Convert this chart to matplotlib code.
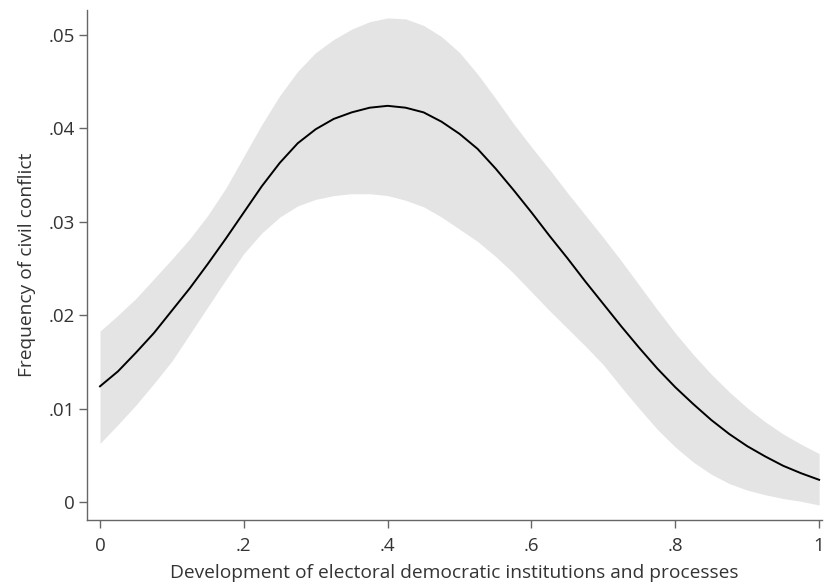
import matplotlib
matplotlib.use("Agg")
import matplotlib.pyplot as plt

x_vals = [0.0, 0.025, 0.05, 0.075, 0.1, 0.125, 0.15, 0.175, 0.2, 0.225,
          0.25, 0.275, 0.3, 0.325, 0.35, 0.375, 0.4, 0.425, 0.45, 0.475,
          0.5, 0.525, 0.55, 0.575, 0.6, 0.625, 0.65, 0.675, 0.7, 0.725,
          0.75, 0.775, 0.8, 0.825, 0.85, 0.875, 0.9, 0.925, 0.95, 0.975, 1.0]
mean_vals = [0.0124, 0.0140, 0.0160, 0.0181, 0.0205, 0.0229, 0.0255, 0.0282, 0.0310, 0.0338,
             0.0363, 0.0384, 0.0399, 0.0410, 0.0417, 0.0422, 0.0424, 0.0422, 0.0417, 0.0407,
             0.0394, 0.0378, 0.0357, 0.0334, 0.0310, 0.0285, 0.0261, 0.0236, 0.0212, 0.0188,
             0.0165, 0.0143, 0.0123, 0.0105, 0.0088, 0.0073, 0.0060, 0.0049, 0.0039, 0.0031, 0.0024]
upper_vals = [0.0183, 0.0200, 0.0218, 0.0239, 0.0260, 0.0282, 0.0307, 0.0336, 0.0370, 0.0404,
              0.0435, 0.0461, 0.0481, 0.0495, 0.0506, 0.0514, 0.0518, 0.0517, 0.0510, 0.0498,
              0.0481, 0.0458, 0.0432, 0.0405, 0.0380, 0.0356, 0.0331, 0.0307, 0.0283, 0.0258,
              0.0232, 0.0206, 0.0181, 0.0158, 0.0137, 0.0118, 0.0101, 0.0086, 0.0073, 0.0062, 0.0052]
lower_vals = [0.0063, 0.0083, 0.0104, 0.0127, 0.0151, 0.0180, 0.0209, 0.0238, 0.0266, 0.0288,
              0.0305, 0.0317, 0.0324, 0.0328, 0.0330, 0.0330, 0.0328, 0.0323, 0.0316, 0.0305,
              0.0292, 0.0279, 0.0263, 0.0245, 0.0225, 0.0205, 0.0186, 0.0167, 0.0147, 0.0123,
              0.0100, 0.0078, 0.0059, 0.0043, 0.0030, 0.0020, 0.0013, 0.0008, 0.0004, 0.0001, -0.0003]

xticks = [0, 0.2, 0.4, 0.6, 0.8, 1.0]
xtick_labels = ["0", ".2", ".4", ".6", ".8", "1"]
yticks = [0, 0.01, 0.02, 0.03, 0.04, 0.05]
ytick_labels = ["0", ".01", ".02", ".03", ".04", ".05"]

plt.rcParams['font.family'] = ['Open Sans', 'DejaVu Sans']
text_color = '#333333'
spine_color = '#666666'

fig = plt.figure(figsize=(8.25, 5.88), dpi=100)
ax = fig.add_axes([0.1055, 0.1156, 0.8909, 0.8674])

ax.fill_between(x_vals, lower_vals, upper_vals, color='#e4e4e4', linewidth=0)
ax.plot(x_vals, mean_vals, color='black', linewidth=1.4)

ax.set_xlim(-0.018, 1.004)
ax.set_ylim(-0.0019, 0.05265)
ax.set_xticks(xticks)
ax.set_xticklabels(xtick_labels)
ax.set_yticks(yticks)
ax.set_yticklabels(ytick_labels)

for s in ['top', 'right']:
    ax.spines[s].set_visible(False)
for s in ['left', 'bottom']:
    ax.spines[s].set_color(spine_color)
    ax.spines[s].set_linewidth(1.0)

ax.tick_params(axis='both', direction='out', length=6, width=1.0, color=spine_color,
               labelcolor=text_color, labelsize=13.5, pad=3)
ax.tick_params(axis='x', pad=6)

ax.set_xlabel("Development of electoral democratic institutions and processes",
              fontsize=13.8, color=text_color, labelpad=7)
ax.set_ylabel("Frequency of civil conflict", fontsize=13.8, color=text_color, labelpad=9)

fig.savefig("out.png", dpi=100)
